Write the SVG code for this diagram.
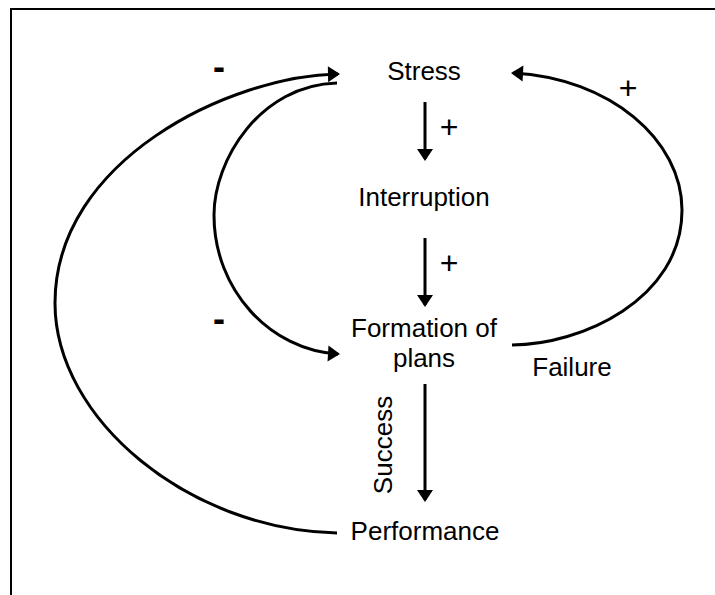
<svg xmlns="http://www.w3.org/2000/svg" width="715" height="595" viewBox="0 0 715 595">
<style>
.lbl{font-family:"Liberation Sans",Arial,sans-serif;font-size:26px;fill:#000;text-anchor:middle}
.sign{font-family:"Liberation Sans",Arial,sans-serif;fill:#000;text-anchor:middle}
.plus{font-size:32px}
.minus{font-size:36px;font-weight:bold}
.edge{fill:none;stroke:#000;stroke-width:3}
</style>
<defs>
<marker id="ah" markerUnits="userSpaceOnUse" markerWidth="12" markerHeight="16" refX="10" refY="8" orient="auto" overflow="visible">
<path d="M0,0 L12,8 L0,16 Z" fill="#000"/>
</marker>
</defs>
<rect width="715" height="595" fill="#fff"/>
<path d="M11,595 V9 H715" fill="none" stroke="#000" stroke-width="2"/>
<g id="connectors">
<path class="edge" d="M425,102 V159" marker-end="url(#ah)"/>
<path class="edge" d="M425,238 V305" marker-end="url(#ah)"/>
<path class="edge" d="M425,384 V500" marker-end="url(#ah)"/>
<path class="edge" d="M337,533 C190,530 55,420 55,303 C55,160 230,76 338,74" marker-end="url(#ah)"/>
<path class="edge" d="M337,83 C260,85 214,160 214,215 C214,290 270,350 338,354" marker-end="url(#ah)"/>
<path class="edge" d="M512,345 C580,345 682,300 682,210 C682,140 610,78 513,73" marker-end="url(#ah)"/>
<text class="sign minus" x="219" y="79">-</text>
<text class="sign minus" x="219" y="331">-</text>
<text class="sign plus" x="628" y="99">+</text>
<text class="sign plus" x="449" y="138">+</text>
<text class="sign plus" x="449" y="274">+</text>
<text class="lbl" x="572" y="376">Failure</text>
<text class="lbl" transform="translate(392,445) rotate(-90)">Success</text>
</g>
<g id="stress"><text class="lbl" x="424" y="80">Stress</text></g>
<g id="interruption"><text class="lbl" x="424" y="206">Interruption</text></g>
<g id="formation"><text class="lbl" x="424" y="337">Formation of</text><text class="lbl" x="424" y="367">plans</text></g>
<g id="performance"><text class="lbl" x="425" y="540">Performance</text></g>
</svg>
